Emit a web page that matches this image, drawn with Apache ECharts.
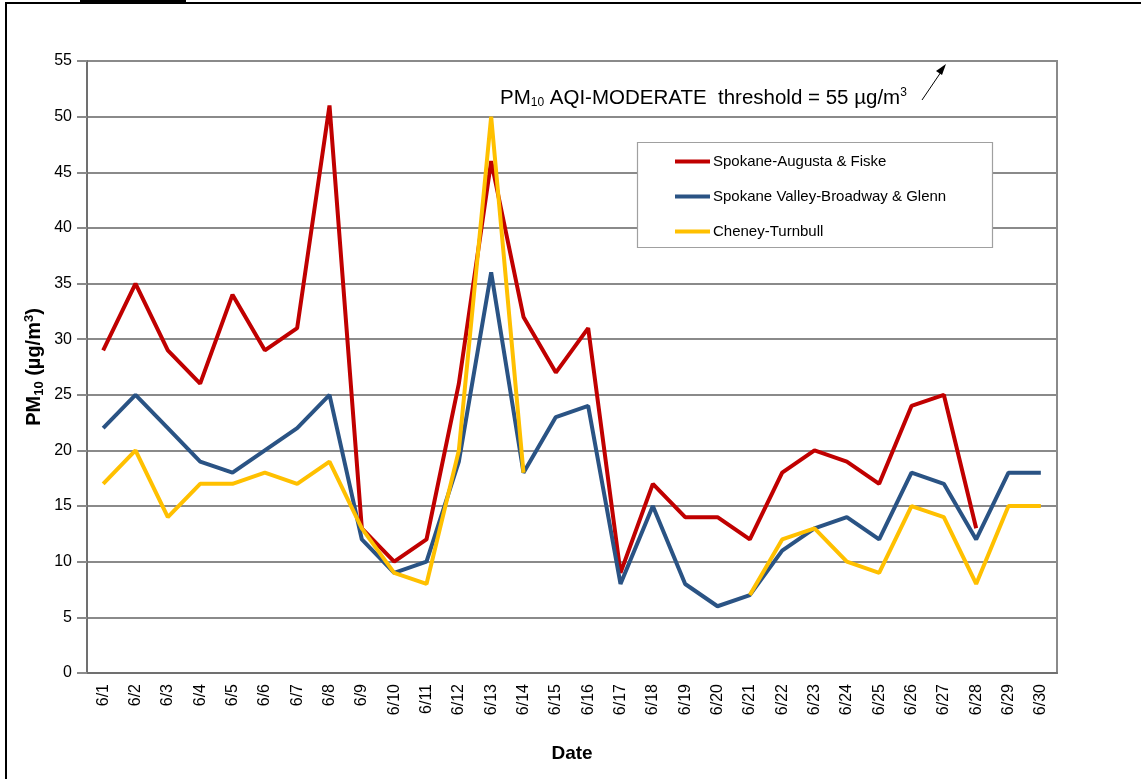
<!DOCTYPE html>
<html>
<head>
<meta charset="utf-8">
<script src="https://cdn.jsdelivr.net/npm/echarts@6/dist/echarts.min.js"></script>
<style>
html,body{margin:0;padding:0;background:#fff;}
#chart{width:1141px;height:779px;}
</style>
</head>
<body>
<div id="chart"></div>
<script>
const dates = ['6/1','6/2','6/3','6/4','6/5','6/6','6/7','6/8','6/9','6/10','6/11','6/12','6/13','6/14','6/15','6/16','6/17','6/18','6/19','6/20','6/21','6/22','6/23','6/24','6/25','6/26','6/27','6/28','6/29','6/30'];
const spokaneAugusta = [29,35,29,26,34,29,31,51,13,10,12,26,46,32,27,31,9,17,14,14,12,18,20,19,17,24,25,13,null,null];
const spokaneValley = [22,25,22,19,18,20,22,25,12,9,10,19,36,18,23,24,8,15,8,6,7,11,13,14,12,18,17,12,18,18];
const cheneyTurnbull = [17,20,14,17,17,18,17,19,13,9,8,20,50,18,null,null,null,null,null,null,7,12,13,10,9,15,14,8,15,15];
const seriesNames = ['Spokane-Augusta & Fiske','Spokane Valley-Broadway & Glenn','Cheney-Turnbull'];
const yTicks = {min:0, max:55, interval:5};

const FONT = "'Liberation Sans', Arial, sans-serif";
const NARROW = "'Liberation Sans Narrow', 'Liberation Sans', Arial, sans-serif";
const colors = ['#C00000','#2A5384','#FFC000'];

const chart = echarts.init(document.getElementById('chart'));
function mk(name, data, color){
  return {name, type:'line', data, symbol:'none', connectNulls:false,
    lineStyle:{color, width:4}, itemStyle:{color}, z: 3};
}
chart.setOption({
  animation:false,
  backgroundColor:'#fff',
  grid:{left:87, top:61, width:970, height:612, show:true, borderColor:'#8a8a8a', borderWidth:2, containLabel:false},
  legend:{
    orient:'vertical', left:675, top:154, padding:0, itemWidth:35, itemHeight:4, itemGap:20,
    icon:'rect',
    textStyle:{fontFamily:FONT, fontSize:15, color:'#000', padding:[0,0,0,-2]},
    data: seriesNames
  },
  xAxis:{
    type:'category', data:dates, boundaryGap:true,
    axisLine:{lineStyle:{color:'#707070', width:2}},
    axisTick:{show:false},
    axisLabel:{rotate:90, fontFamily:FONT, fontSize:16, color:'#000', margin:11, interval:0},
    name:'Date', nameLocation:'middle', nameGap:71,
    nameTextStyle:{fontFamily:NARROW, fontSize:19, fontWeight:'bold', color:'#000'}
  },
  yAxis:{
    type:'value', min:yTicks.min, max:yTicks.max, interval:yTicks.interval,
    axisLine:{show:true, lineStyle:{color:'#707070', width:2}},
    axisTick:{show:true, length:10, lineStyle:{color:'#8a8a8a', width:2}},
    splitLine:{lineStyle:{color:'#8a8a8a', width:2}},
    axisLabel:{fontFamily:FONT, fontSize:16, color:'#000', margin:15},
    name:'{b|PM}{s|10}{b| (\u00B5g/m}{p|3}{b|)}', nameLocation:'middle', nameGap:41, nameRotate:90,
    nameMoveOverlap:false,
    nameTextStyle:{
      rich:{
        b:{fontFamily:FONT, fontSize:20, fontWeight:'bold', color:'#000'},
        s:{fontFamily:FONT, fontSize:13, fontWeight:'bold', color:'#000', verticalAlign:'bottom', padding:[10,0,0,0]},
        p:{fontFamily:FONT, fontSize:13, fontWeight:'bold', color:'#000', verticalAlign:'top', padding:[0,0,10,0]}
      }
    }
  },
  series:[
    mk(seriesNames[0], spokaneAugusta, colors[0]),
    mk(seriesNames[1], spokaneValley, colors[1]),
    mk(seriesNames[2], cheneyTurnbull, colors[2])
  ],
  graphic:[
    {type:'rect', shape:{x:6, y:3, width:1200, height:900}, style:{fill:null, stroke:'#000', lineWidth:2}, z:0, silent:true},
    {type:'rect', shape:{x:80, y:0, width:106, height:4}, style:{fill:'#000'}, z:1},
    {type:'rect', shape:{x:637.5, y:142.5, width:355, height:105}, style:{fill:'#fff', stroke:'#a0a0a0', lineWidth:1.2}, z:2},
    {type:'text', left:500, top:87, z:5, style:{
      text:'{a|PM}{s|10}{a| AQI-MODERATE  threshold = 55 \u00B5g/m}{p|3}',
      rich:{
        a:{fontFamily:FONT, fontSize:20.5, fill:'#000'},
        s:{fontFamily:FONT, fontSize:12, fill:'#000', verticalAlign:'bottom', padding:[10,0,0,0]},
        p:{fontFamily:FONT, fontSize:12, fill:'#000', verticalAlign:'top', padding:[0,0,9,0]}
      }
    }},
    {type:'line', shape:{x1:922, y1:100, x2:941, y2:72}, style:{stroke:'#000', lineWidth:1}, z:5},
    {type:'polygon', shape:{points:[[946,64],[936,71],[942,75]]}, style:{fill:'#000'}, z:5}
  ]
});
</script>
</body>
</html>
